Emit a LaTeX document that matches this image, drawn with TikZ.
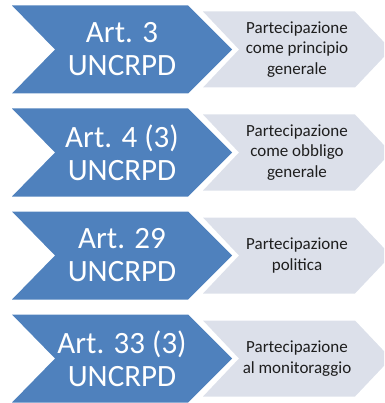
\documentclass[tikz,border=0pt]{standalone}
\usepackage{fontspec}
\setmainfont{Carlito}
\definecolor{artblue}{HTML}{4F81BD}
\definecolor{notegray}{HTML}{DCE0EA}
\definecolor{notetext}{HTML}{1E1E1E}
\tikzset{
  artshape/.style={fill=artblue, draw=none},
  noteshape/.style={fill=notegray, draw=none},
  arttext/.style={text=white, align=center, inner sep=0pt,
    font=\fontsize{31}{33}\selectfont},
  notetext/.style={text=notetext, align=center, inner sep=0pt,
    font=\fontsize{17}{20.5}\selectfont},
}
\begin{document}
\begin{tikzpicture}[x=1pt, y=-1pt]
\useasboundingbox (0,0) rectangle (384,403);
\clip (0,0) rectangle (384,403);
\foreach \cy/\art/\note [count=\i] in {
  49.5/{Art. 3\\UNCRPD}/{Partecipazione\\come principio\\generale},
  152.5/{Art. 4 (3)\\UNCRPD}/{Partecipazione\\come obbligo\\generale},
  255.5/{Art. 29\\UNCRPD}/{Partecipazione\\politica},
  358.5/{Art. 33 (3)\\UNCRPD}/{Partecipazione\\al monitoraggio}} {
  % light chevron with the description, behind
  \fill[noteshape] (203,\cy-38) -- (355,\cy-38) -- (391,\cy) -- (355,\cy+38)
    -- (203,\cy+38) -- (239,\cy) -- cycle;
  % blue chevron with the article
  \fill[artshape] (12,\cy-44) -- (188,\cy-44) -- (232,\cy) -- (188,\cy+44)
    -- (12,\cy+44) -- (55,\cy) -- cycle;
  \node[arttext] (art\i) at (122,\cy) {\art};
  \node[notetext] (note\i) at (297,\cy) {\note};
}
\end{tikzpicture}
\end{document}
